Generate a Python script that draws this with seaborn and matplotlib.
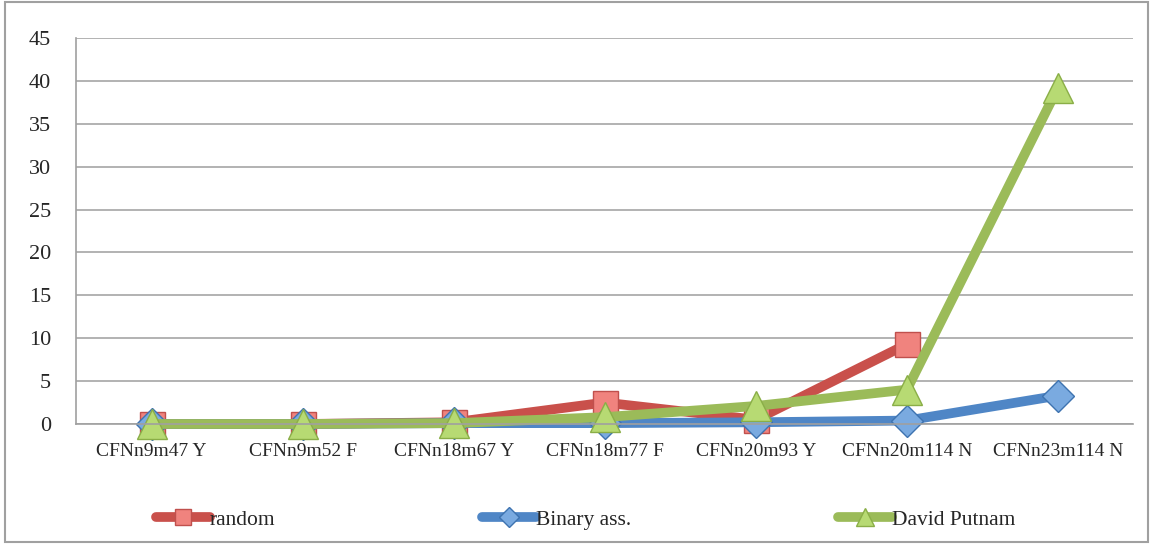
import numpy as np
import pandas as pd
import matplotlib
matplotlib.use('Agg')
import matplotlib.pyplot as plt
import seaborn as sns

# chart data
categories = ['CFNn9m47 Y', 'CFNn9m52 F', 'CFNn18m67 Y', 'CFNn18m77 F',
              'CFNn20m93 Y', 'CFNn20m114 N', 'CFNn23m114 N']
random_vals = [0.0, 0.0, 0.2, 2.5, 0.5, 9.3, np.nan]
binary_vals = [0.0, 0.0, 0.1, 0.1, 0.2, 0.4, 3.3]
dp_vals = [0.0, 0.0, 0.1, 0.8, 2.1, 4.0, 39.2]
series_names = ['random', 'Binary ass.', 'David Putnam']

df = pd.DataFrame({
    'x': list(range(len(categories))) * 3,
    'value': random_vals + binary_vals + dp_vals,
    'series': np.repeat(series_names, len(categories)),
})

sns.set_style('white')
plt.rcParams['font.family'] = ['Liberation Serif', 'DejaVu Serif']

fig = plt.figure(figsize=(11.53, 5.44), dpi=100)
ax = fig.add_axes([0.066, 0.2206, 0.917, 0.7094])

line_cols = {'random': '#C9504B', 'Binary ass.': '#4F86C6', 'David Putnam': '#9BBB59'}
face_cols = {'random': '#F0837E', 'Binary ass.': '#7AAAE0', 'David Putnam': '#B7DA73'}
edge_cols = {'random': '#C0504D', 'Binary ass.': '#3E73B0', 'David Putnam': '#8AAE47'}
markers = {'random': 's', 'Binary ass.': 'D', 'David Putnam': '^'}
msizes = {'random': 18, 'Binary ass.': 16, 'David Putnam': 21}

for name in series_names:
    sub = df[df['series'] == name]
    sns.lineplot(data=sub, x='x', y='value', ax=ax, color=line_cols[name],
                 linewidth=7, marker=markers[name], markersize=msizes[name],
                 markerfacecolor=face_cols[name], markeredgecolor=edge_cols[name],
                 markeredgewidth=1, label=name, legend=False, clip_on=False,
                 solid_joinstyle='round', solid_capstyle='round')

ax.set_xlim(-0.5, len(categories) - 0.5)
ax.set_ylim(0, 45)
ax.set_yticks(range(0, 50, 5))
ax.set_xticks(range(len(categories)))
ax.set_xticklabels(categories, fontsize=14)
ax.set_xticks(np.arange(-0.5, len(categories), 1), minor=True)
ax.tick_params(axis='x', which='major', length=0, pad=14)
ax.tick_params(axis='x', which='minor', length=6, color='#A0A0A0', width=1.2, direction='out')
ax.tick_params(axis='y', labelsize=16, length=7, color='#A0A0A0', width=1.2, direction='out', pad=11)
ax.set_xlabel('')
ax.set_ylabel('')
ax.yaxis.grid(True, color='#A6A6A6', linewidth=1.2)
ax.xaxis.grid(False)
for s in ['top', 'right']:
    ax.spines[s].set_visible(False)
for s in ['left', 'bottom']:
    ax.spines[s].set_color('#A0A0A0')
    ax.spines[s].set_linewidth(1.2)
ax.set_axisbelow(True)

handles, labels = ax.get_legend_handles_labels()
fig.legend(handles, labels, loc='center', bbox_to_anchor=(0.508, 0.045), ncol=3,
           frameon=False, fontsize=15.5, columnspacing=9.6, handlelength=2.5,
           handletextpad=0.0, markerscale=0.65)

# outer chart border
fig.patches.append(plt.Rectangle((0.004, 0.004), 0.992, 0.992, transform=fig.transFigure,
                                 fill=False, edgecolor='#A0A0A0', linewidth=1.5))

fig.savefig('out.png', dpi=100)
